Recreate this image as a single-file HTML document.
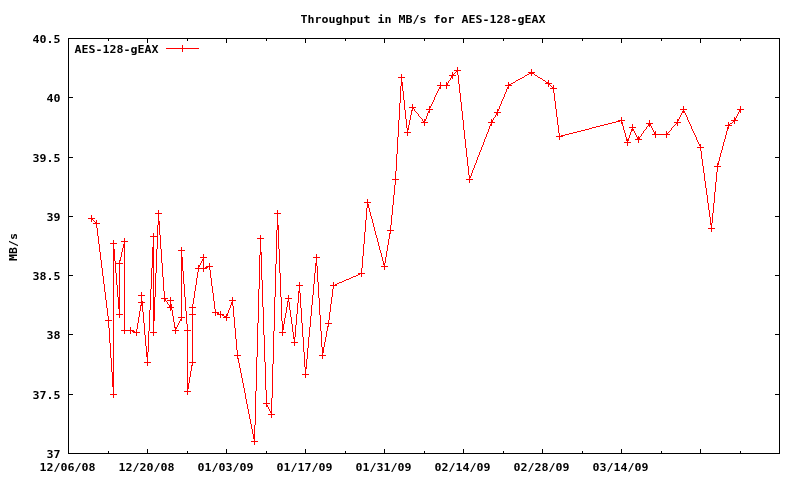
<!DOCTYPE html>
<html lang="en">
<head>
<meta charset="utf-8">
<title>Throughput in MB/s for AES-128-gEAX</title>
<style>
html,body{margin:0;padding:0;background:#fff;overflow:hidden}
svg{display:block}
text{font-family:"DejaVu Sans Mono", "Liberation Mono", monospace;font-weight:bold;font-size:11px;fill:#000}
.ax{stroke:#000;stroke-width:1;fill:none;shape-rendering:crispEdges}
.d{stroke:#f00;stroke-width:1;fill:none;shape-rendering:crispEdges}
</style>
</head>
<body>
<svg width="800" height="480" viewBox="0 0 800 480">
<rect x="0" y="0" width="800" height="480" fill="#fff"/>
<text x="300.5" y="23" text-anchor="start" textLength="245" lengthAdjust="spacingAndGlyphs">Throughput in MB/s for AES-128-gEAX</text>
<text transform="translate(16.5,261) rotate(-90)" x="0" y="0" textLength="28" lengthAdjust="spacingAndGlyphs">MB/s</text>
<path class="ax" d="M68.5 38.5H779.5V453.5H68.5Z"/>
<text x="60.5" y="43" text-anchor="end" textLength="28" lengthAdjust="spacingAndGlyphs">40.5</text>
<text x="60.5" y="102" text-anchor="end" textLength="14" lengthAdjust="spacingAndGlyphs">40</text>
<text x="60.5" y="162" text-anchor="end" textLength="28" lengthAdjust="spacingAndGlyphs">39.5</text>
<text x="60.5" y="221" text-anchor="end" textLength="14" lengthAdjust="spacingAndGlyphs">39</text>
<text x="60.5" y="280" text-anchor="end" textLength="28" lengthAdjust="spacingAndGlyphs">38.5</text>
<text x="60.5" y="339" text-anchor="end" textLength="14" lengthAdjust="spacingAndGlyphs">38</text>
<text x="60.5" y="399" text-anchor="end" textLength="28" lengthAdjust="spacingAndGlyphs">37.5</text>
<text x="60.5" y="458" text-anchor="end" textLength="14" lengthAdjust="spacingAndGlyphs">37</text>
<text x="39.5" y="471" text-anchor="start" textLength="56" lengthAdjust="spacingAndGlyphs">12/06/08</text>
<text x="118.5" y="471" text-anchor="start" textLength="56" lengthAdjust="spacingAndGlyphs">12/20/08</text>
<text x="197.5" y="471" text-anchor="start" textLength="56" lengthAdjust="spacingAndGlyphs">01/03/09</text>
<text x="276.5" y="471" text-anchor="start" textLength="56" lengthAdjust="spacingAndGlyphs">01/17/09</text>
<text x="355.5" y="471" text-anchor="start" textLength="56" lengthAdjust="spacingAndGlyphs">01/31/09</text>
<text x="434.5" y="471" text-anchor="start" textLength="56" lengthAdjust="spacingAndGlyphs">02/14/09</text>
<text x="513.5" y="471" text-anchor="start" textLength="56" lengthAdjust="spacingAndGlyphs">02/28/09</text>
<text x="592.5" y="471" text-anchor="start" textLength="56" lengthAdjust="spacingAndGlyphs">03/14/09</text>
<path class="ax" d="M69 38.5h4M779 38.5h-4M69 97.5h4M779 97.5h-4M69 157.5h4M779 157.5h-4M69 216.5h4M779 216.5h-4M69 275.5h4M779 275.5h-4M69 334.5h4M779 334.5h-4M69 394.5h4M779 394.5h-4M69 453.5h4M779 453.5h-4M68.5 453v-4M68.5 39v4M147.5 453v-4M147.5 39v4M226.5 453v-4M226.5 39v4M305.5 453v-4M305.5 39v4M384.5 453v-4M384.5 39v4M463.5 453v-4M463.5 39v4M542.5 453v-4M542.5 39v4M621.5 453v-4M621.5 39v4M700.5 453v-4M700.5 39v4M779.5 453v-4M779.5 39v4M108.5 453v-2M108.5 39v2M187.5 453v-2M187.5 39v2M266.5 453v-2M266.5 39v2M345.5 453v-2M345.5 39v2M424.5 453v-2M424.5 39v2M503.5 453v-2M503.5 39v2M582.5 453v-2M582.5 39v2M661.5 453v-2M661.5 39v2M740.5 453v-2M740.5 39v2"/>
<text x="74.5" y="53" text-anchor="start" textLength="84" lengthAdjust="spacingAndGlyphs">AES-128-gEAX</text>
<path class="d" d="M166 48.5H199M182.5 45v7"/>
<path fill="#f00" shape-rendering="crispEdges" d="M91 215h1v7h-1zM92 218h1v2h-1zM95 222h1v2h-1zM96 220h1v8h-1zM97 228h1v8h-1zM98 236h1v8h-1zM99 244h1v8h-1zM100 252h1v8h-1zM101 260h1v8h-1zM102 268h1v8h-1zM103 276h1v8h-1zM104 284h1v8h-1zM105 292h1v8h-1zM106 300h1v8h-1zM107 308h1v8h-1zM108 316h1v12h-1zM109 328h1v15h-1zM110 343h1v15h-1zM111 358h1v14h-1zM112 372h1v15h-1zM113 240h1v158h-1zM114 249h1v12h-1zM115 261h1v12h-1zM116 273h1v12h-1zM117 285h1v12h-1zM118 297h1v12h-1zM119 260h1v58h-1zM120 257h1v4h-1zM121 252h1v5h-1zM122 248h1v4h-1zM123 244h1v4h-1zM124 238h1v96h-1zM130 327h1v7h-1zM132 330h1v2h-1zM133 330h1v3h-1zM134 331h1v2h-1zM136 329h1v7h-1zM137 323h1v6h-1zM138 317h1v6h-1zM139 311h1v6h-1zM140 305h1v6h-1zM141 292h1v14h-1zM142 301h1v11h-1zM143 312h1v11h-1zM144 323h1v12h-1zM145 335h1v11h-1zM146 346h1v11h-1zM147 352h1v14h-1zM148 331h1v21h-1zM149 310h1v21h-1zM150 289h1v21h-1zM151 268h1v21h-1zM152 247h1v21h-1zM153 233h1v103h-1zM154 297h1v24h-1zM155 273h1v24h-1zM156 249h1v24h-1zM157 225h1v24h-1zM158 210h1v15h-1zM159 221h1v14h-1zM160 235h1v14h-1zM161 249h1v14h-1zM162 263h1v14h-1zM163 277h1v14h-1zM164 291h1v11h-1zM165 298h1v3h-1zM167 302h1v2h-1zM169 305h1v3h-1zM170 297h1v14h-1zM171 304h1v6h-1zM172 310h1v6h-1zM173 316h1v6h-1zM174 322h1v6h-1zM175 327h1v7h-1zM176 327h1v2h-1zM177 325h1v2h-1zM178 323h1v2h-1zM179 321h1v2h-1zM180 319h1v2h-1zM181 247h1v74h-1zM182 257h1v14h-1zM183 271h1v13h-1zM184 284h1v13h-1zM185 297h1v14h-1zM186 311h1v13h-1zM187 324h1v71h-1zM188 383h1v6h-1zM189 377h1v6h-1zM190 371h1v6h-1zM191 365h1v6h-1zM192 304h1v62h-1zM193 298h1v6h-1zM194 291h1v7h-1zM195 285h1v6h-1zM196 278h1v7h-1zM197 272h1v6h-1zM198 265h1v7h-1zM199 265h1v2h-1zM200 263h1v2h-1zM201 261h1v2h-1zM202 259h1v2h-1zM203 254h1v18h-1zM205 267h1v2h-1zM206 266h1v3h-1zM207 266h1v2h-1zM209 263h1v7h-1zM210 270h1v8h-1zM211 278h1v8h-1zM212 286h1v7h-1zM213 293h1v8h-1zM214 301h1v8h-1zM215 309h1v7h-1zM217 312h1v3h-1zM218 312h1v3h-1zM220 311h1v7h-1zM222 314h1v2h-1zM223 314h1v2h-1zM224 316h1v2h-1zM225 316h1v2h-1zM226 314h1v7h-1zM227 313h1v3h-1zM228 310h1v3h-1zM229 308h1v2h-1zM230 305h1v3h-1zM231 302h1v3h-1zM232 297h1v9h-1zM233 306h1v11h-1zM234 317h1v11h-1zM235 328h1v11h-1zM236 339h1v11h-1zM237 350h1v9h-1zM238 358h1v5h-1zM239 363h1v5h-1zM240 368h1v5h-1zM241 373h1v5h-1zM242 378h1v5h-1zM243 383h1v5h-1zM244 388h1v5h-1zM245 393h1v6h-1zM246 399h1v5h-1zM247 404h1v5h-1zM248 409h1v5h-1zM249 414h1v5h-1zM250 419h1v5h-1zM251 424h1v5h-1zM252 429h1v5h-1zM253 434h1v5h-1zM254 425h1v20h-1zM255 391h1v34h-1zM256 357h1v34h-1zM257 323h1v34h-1zM258 289h1v34h-1zM259 255h1v34h-1zM260 235h1v20h-1zM261 252h1v28h-1zM262 280h1v27h-1zM263 307h1v28h-1zM264 335h1v27h-1zM265 362h1v28h-1zM266 390h1v17h-1zM267 405h1v2h-1zM268 407h1v2h-1zM269 409h1v2h-1zM270 411h1v2h-1zM271 398h1v20h-1zM272 364h1v34h-1zM273 331h1v33h-1zM274 297h1v34h-1zM275 264h1v33h-1zM276 230h1v34h-1zM277 210h1v20h-1zM278 225h1v24h-1zM279 249h1v24h-1zM280 273h1v24h-1zM281 297h1v24h-1zM282 321h1v15h-1zM283 324h1v6h-1zM284 318h1v6h-1zM285 313h1v5h-1zM286 307h1v6h-1zM287 301h1v6h-1zM288 295h1v7h-1zM289 302h1v8h-1zM290 310h1v7h-1zM291 317h1v7h-1zM292 324h1v8h-1zM293 332h1v7h-1zM294 337h1v9h-1zM295 325h1v12h-1zM296 314h1v11h-1zM297 303h1v11h-1zM298 291h1v12h-1zM299 282h1v11h-1zM300 293h1v15h-1zM301 308h1v15h-1zM302 323h1v14h-1zM303 337h1v15h-1zM304 352h1v15h-1zM305 367h1v11h-1zM306 359h1v10h-1zM307 348h1v11h-1zM308 337h1v11h-1zM309 327h1v10h-1zM310 316h1v11h-1zM311 305h1v11h-1zM312 295h1v10h-1zM313 284h1v11h-1zM314 273h1v11h-1zM315 263h1v10h-1zM316 254h1v12h-1zM317 266h1v16h-1zM318 282h1v16h-1zM319 298h1v17h-1zM320 315h1v16h-1zM321 331h1v16h-1zM322 347h1v12h-1zM323 347h1v6h-1zM324 342h1v5h-1zM325 337h1v5h-1zM326 331h1v6h-1zM327 326h1v5h-1zM328 320h1v7h-1zM329 312h1v8h-1zM330 304h1v8h-1zM331 297h1v7h-1zM332 289h1v8h-1zM333 282h1v7h-1zM335 284h1v2h-1zM336 284h1v2h-1zM358 273h1v2h-1zM359 273h1v2h-1zM361 268h1v9h-1zM362 256h1v12h-1zM363 244h1v12h-1zM364 232h1v12h-1zM365 220h1v12h-1zM366 208h1v12h-1zM367 199h1v9h-1zM368 204h1v4h-1zM369 208h1v4h-1zM370 212h1v4h-1zM371 216h1v3h-1zM372 219h1v4h-1zM373 223h1v4h-1zM374 227h1v4h-1zM375 231h1v4h-1zM376 235h1v3h-1zM377 238h1v4h-1zM378 242h1v4h-1zM379 246h1v4h-1zM380 250h1v3h-1zM381 253h1v4h-1zM382 257h1v4h-1zM383 261h1v4h-1zM384 263h1v7h-1zM385 257h1v6h-1zM386 251h1v6h-1zM387 245h1v6h-1zM388 239h1v6h-1zM389 233h1v6h-1zM390 225h1v9h-1zM391 215h1v10h-1zM392 205h1v10h-1zM393 195h1v10h-1zM394 185h1v10h-1zM395 171h1v14h-1zM396 154h1v17h-1zM397 137h1v17h-1zM398 120h1v17h-1zM399 103h1v17h-1zM400 86h1v17h-1zM401 74h1v12h-1zM402 82h1v9h-1zM403 91h1v9h-1zM404 100h1v10h-1zM405 110h1v9h-1zM406 119h1v9h-1zM407 128h1v8h-1zM408 125h1v5h-1zM409 120h1v5h-1zM410 115h1v5h-1zM411 110h1v5h-1zM412 104h1v7h-1zM413 107h1v2h-1zM414 109h1v2h-1zM418 114h1v2h-1zM422 119h1v2h-1zM423 121h1v2h-1zM424 119h1v7h-1zM425 119h1v2h-1zM426 116h1v3h-1zM427 113h1v3h-1zM428 111h1v2h-1zM429 106h1v7h-1zM430 106h1v2h-1zM431 104h1v2h-1zM432 102h1v2h-1zM433 100h1v2h-1zM434 97h1v3h-1zM435 95h1v2h-1zM436 93h1v2h-1zM437 91h1v2h-1zM438 89h1v2h-1zM439 87h1v2h-1zM440 82h1v7h-1zM446 82h1v7h-1zM447 83h1v3h-1zM448 81h1v2h-1zM450 78h1v2h-1zM451 75h1v3h-1zM452 72h1v7h-1zM453 74h1v2h-1zM456 70h1v2h-1zM457 67h1v8h-1zM458 75h1v9h-1zM459 84h1v9h-1zM460 93h1v9h-1zM461 102h1v9h-1zM462 111h1v9h-1zM463 120h1v10h-1zM464 130h1v9h-1zM465 139h1v9h-1zM466 148h1v9h-1zM467 157h1v9h-1zM468 166h1v9h-1zM469 175h1v8h-1zM470 176h1v2h-1zM471 173h1v3h-1zM472 170h1v3h-1zM473 168h1v2h-1zM474 165h1v3h-1zM475 163h1v2h-1zM476 160h1v3h-1zM477 157h1v3h-1zM478 155h1v2h-1zM479 152h1v3h-1zM480 150h1v2h-1zM481 147h1v3h-1zM482 145h1v2h-1zM483 142h1v3h-1zM484 139h1v3h-1zM485 137h1v2h-1zM486 134h1v3h-1zM487 132h1v2h-1zM488 129h1v3h-1zM489 126h1v3h-1zM490 124h1v2h-1zM491 119h1v7h-1zM492 120h1v3h-1zM493 118h1v2h-1zM495 115h1v2h-1zM496 112h1v3h-1zM497 109h1v7h-1zM498 109h1v2h-1zM499 106h1v3h-1zM500 104h1v2h-1zM501 101h1v3h-1zM502 99h1v2h-1zM503 97h1v2h-1zM504 94h1v3h-1zM505 92h1v2h-1zM506 89h1v3h-1zM507 87h1v2h-1zM508 82h1v7h-1zM509 84h1v2h-1zM510 84h1v2h-1zM529 72h1v2h-1zM530 72h1v2h-1zM531 69h1v7h-1zM532 72h1v2h-1zM533 72h1v2h-1zM546 82h1v2h-1zM547 82h1v2h-1zM548 80h1v7h-1zM549 83h1v2h-1zM552 87h1v2h-1zM553 85h1v8h-1zM554 93h1v8h-1zM555 101h1v8h-1zM556 109h1v8h-1zM557 117h1v8h-1zM558 125h1v8h-1zM559 133h1v7h-1zM561 135h1v2h-1zM562 135h1v2h-1zM618 120h1v2h-1zM619 120h1v2h-1zM621 117h1v7h-1zM622 122h1v4h-1zM623 126h1v4h-1zM624 130h1v3h-1zM625 133h1v4h-1zM626 137h1v4h-1zM627 139h1v7h-1zM628 138h1v3h-1zM629 135h1v3h-1zM630 132h1v3h-1zM631 129h1v3h-1zM632 124h1v7h-1zM633 129h1v2h-1zM634 131h1v2h-1zM635 133h1v2h-1zM636 135h1v2h-1zM637 137h1v3h-1zM638 136h1v7h-1zM639 137h1v3h-1zM641 134h1v2h-1zM643 131h1v2h-1zM646 127h1v2h-1zM648 123h1v3h-1zM649 120h1v7h-1zM650 123h1v3h-1zM651 126h1v2h-1zM652 128h1v2h-1zM653 130h1v2h-1zM654 132h1v3h-1zM655 131h1v7h-1zM666 131h1v7h-1zM667 133h1v2h-1zM671 128h1v2h-1zM676 122h1v2h-1zM677 119h1v7h-1zM678 119h1v2h-1zM679 117h1v2h-1zM680 115h1v2h-1zM681 113h1v2h-1zM682 111h1v2h-1zM683 106h1v7h-1zM684 111h1v2h-1zM685 113h1v2h-1zM686 115h1v2h-1zM687 117h1v3h-1zM688 120h1v2h-1zM689 122h1v2h-1zM690 124h1v2h-1zM691 126h1v3h-1zM692 129h1v2h-1zM693 131h1v2h-1zM694 133h1v2h-1zM695 135h1v2h-1zM696 137h1v3h-1zM697 140h1v2h-1zM698 142h1v2h-1zM699 144h1v2h-1zM700 144h1v7h-1zM701 151h1v8h-1zM702 159h1v7h-1zM703 166h1v7h-1zM704 173h1v8h-1zM705 181h1v7h-1zM706 188h1v7h-1zM707 195h1v8h-1zM708 203h1v7h-1zM709 210h1v7h-1zM710 217h1v8h-1zM711 223h1v9h-1zM712 213h1v10h-1zM713 203h1v10h-1zM714 192h1v11h-1zM715 182h1v10h-1zM716 172h1v10h-1zM717 163h1v9h-1zM718 161h1v4h-1zM719 157h1v4h-1zM720 153h1v4h-1zM721 150h1v3h-1zM722 146h1v4h-1zM723 142h1v4h-1zM724 139h1v3h-1zM725 135h1v4h-1zM726 131h1v4h-1zM727 127h1v4h-1zM728 122h1v7h-1zM729 124h1v2h-1zM733 120h1v2h-1zM734 117h1v7h-1zM735 118h1v3h-1zM736 116h1v2h-1zM737 114h1v2h-1zM738 112h1v2h-1zM739 109h1v3h-1zM740 106h1v7h-1zM454 70h2v1h-2zM458 70h3v1h-3zM455 72h1v1h-1zM528 72h1v1h-1zM534 72h1v1h-1zM454 73h1v1h-1zM527 74h2v1h-2zM534 74h1v1h-1zM449 75h2v1h-2zM454 75h2v1h-2zM525 75h2v1h-2zM535 75h2v1h-2zM524 76h1v1h-1zM537 76h1v1h-1zM398 77h3v1h-3zM402 77h3v1h-3zM522 77h2v1h-2zM538 77h2v1h-2zM520 78h2v1h-2zM540 78h2v1h-2zM518 79h2v1h-2zM542 79h1v1h-1zM449 80h1v1h-1zM516 80h2v1h-2zM543 80h2v1h-2zM515 81h1v1h-1zM545 81h1v1h-1zM513 82h2v1h-2zM511 83h2v1h-2zM545 83h1v1h-1zM550 83h2v1h-2zM437 85h3v1h-3zM441 85h5v1h-5zM448 85h2v1h-2zM505 85h3v1h-3zM511 85h1v1h-1zM550 85h1v1h-1zM551 86h1v1h-1zM550 88h2v1h-2zM554 88h3v1h-3zM409 107h3v1h-3zM414 107h2v1h-2zM426 109h3v1h-3zM430 109h3v1h-3zM680 109h3v1h-3zM684 109h3v1h-3zM737 109h2v1h-2zM741 109h3v1h-3zM415 111h1v1h-1zM416 112h1v1h-1zM494 112h2v1h-2zM498 112h3v1h-3zM417 113h1v1h-1zM419 116h1v1h-1zM420 117h1v1h-1zM494 117h1v1h-1zM421 118h1v1h-1zM620 120h1v1h-1zM622 120h3v1h-3zM731 120h2v1h-2zM736 120h2v1h-2zM616 121h2v1h-2zM421 122h2v1h-2zM425 122h3v1h-3zM488 122h3v1h-3zM493 122h2v1h-2zM612 122h4v1h-4zM674 122h2v1h-2zM678 122h3v1h-3zM732 122h1v1h-1zM608 123h4v1h-4zM646 123h2v1h-2zM651 123h2v1h-2zM730 123h2v1h-2zM604 124h4v1h-4zM675 124h1v1h-1zM600 125h4v1h-4zM674 125h1v1h-1zM725 125h3v1h-3zM730 125h2v1h-2zM596 126h4v1h-4zM647 126h1v1h-1zM673 126h1v1h-1zM592 127h4v1h-4zM629 127h3v1h-3zM633 127h3v1h-3zM672 127h1v1h-1zM589 128h3v1h-3zM585 129h4v1h-4zM645 129h1v1h-1zM581 130h4v1h-4zM644 130h1v1h-1zM670 130h1v1h-1zM577 131h4v1h-4zM669 131h1v1h-1zM404 132h3v1h-3zM408 132h3v1h-3zM573 132h4v1h-4zM668 132h1v1h-1zM569 133h4v1h-4zM642 133h1v1h-1zM565 134h4v1h-4zM652 134h2v1h-2zM656 134h10v1h-10zM668 134h2v1h-2zM563 135h2v1h-2zM556 136h3v1h-3zM560 136h1v1h-1zM640 136h1v1h-1zM635 139h2v1h-2zM640 139h2v1h-2zM624 142h3v1h-3zM628 142h3v1h-3zM697 147h3v1h-3zM701 147h3v1h-3zM714 166h3v1h-3zM718 166h3v1h-3zM392 179h3v1h-3zM396 179h3v1h-3zM466 179h3v1h-3zM470 179h3v1h-3zM364 202h3v1h-3zM368 202h3v1h-3zM155 213h3v1h-3zM159 213h3v1h-3zM274 213h3v1h-3zM278 213h3v1h-3zM88 218h3v1h-3zM93 218h2v1h-2zM93 220h1v1h-1zM94 221h1v1h-1zM93 223h2v1h-2zM97 223h3v1h-3zM708 228h3v1h-3zM712 228h3v1h-3zM387 230h3v1h-3zM391 230h3v1h-3zM150 236h3v1h-3zM154 236h3v1h-3zM257 238h3v1h-3zM261 238h3v1h-3zM121 241h3v1h-3zM125 241h3v1h-3zM110 243h3v1h-3zM114 243h3v1h-3zM178 250h3v1h-3zM182 250h3v1h-3zM200 257h3v1h-3zM204 257h3v1h-3zM313 257h3v1h-3zM317 257h3v1h-3zM116 263h3v1h-3zM120 263h3v1h-3zM208 266h1v1h-1zM210 266h3v1h-3zM381 266h3v1h-3zM385 266h3v1h-3zM195 268h3v1h-3zM199 268h4v1h-4zM204 268h1v1h-1zM360 273h1v1h-1zM362 273h3v1h-3zM356 275h2v1h-2zM353 276h3v1h-3zM351 277h2v1h-2zM349 278h2v1h-2zM346 279h3v1h-3zM344 280h2v1h-2zM342 281h2v1h-2zM339 282h3v1h-3zM337 283h2v1h-2zM296 285h3v1h-3zM300 285h3v1h-3zM330 285h3v1h-3zM334 285h1v1h-1zM138 295h3v1h-3zM142 295h3v1h-3zM161 298h3v1h-3zM166 298h2v1h-2zM285 298h3v1h-3zM289 298h3v1h-3zM167 300h3v1h-3zM171 300h3v1h-3zM229 300h3v1h-3zM233 300h3v1h-3zM166 301h1v1h-1zM138 302h3v1h-3zM143 302h2v1h-2zM168 304h1v1h-1zM167 307h2v1h-2zM172 307h2v1h-2zM189 307h3v1h-3zM193 307h3v1h-3zM212 312h3v1h-3zM216 312h1v1h-1zM116 314h3v1h-3zM120 314h3v1h-3zM189 314h3v1h-3zM193 314h3v1h-3zM219 314h1v1h-1zM221 314h1v1h-1zM178 317h3v1h-3zM182 317h3v1h-3zM223 317h1v1h-1zM227 317h3v1h-3zM105 320h3v1h-3zM109 320h3v1h-3zM325 323h3v1h-3zM329 323h3v1h-3zM121 330h3v1h-3zM125 330h5v1h-5zM131 330h1v1h-1zM172 330h3v1h-3zM176 330h3v1h-3zM184 330h3v1h-3zM188 330h3v1h-3zM135 332h1v1h-1zM137 332h3v1h-3zM150 332h3v1h-3zM154 332h3v1h-3zM279 332h3v1h-3zM283 332h3v1h-3zM291 342h3v1h-3zM295 342h3v1h-3zM234 355h3v1h-3zM238 355h3v1h-3zM319 355h3v1h-3zM323 355h3v1h-3zM144 362h3v1h-3zM148 362h3v1h-3zM189 362h3v1h-3zM193 362h3v1h-3zM302 374h3v1h-3zM306 374h3v1h-3zM184 391h3v1h-3zM188 391h3v1h-3zM110 394h3v1h-3zM114 394h3v1h-3zM263 403h3v1h-3zM267 403h3v1h-3zM268 414h3v1h-3zM272 414h3v1h-3zM251 441h3v1h-3zM255 441h3v1h-3z"/>
</svg>
</body>
</html>
